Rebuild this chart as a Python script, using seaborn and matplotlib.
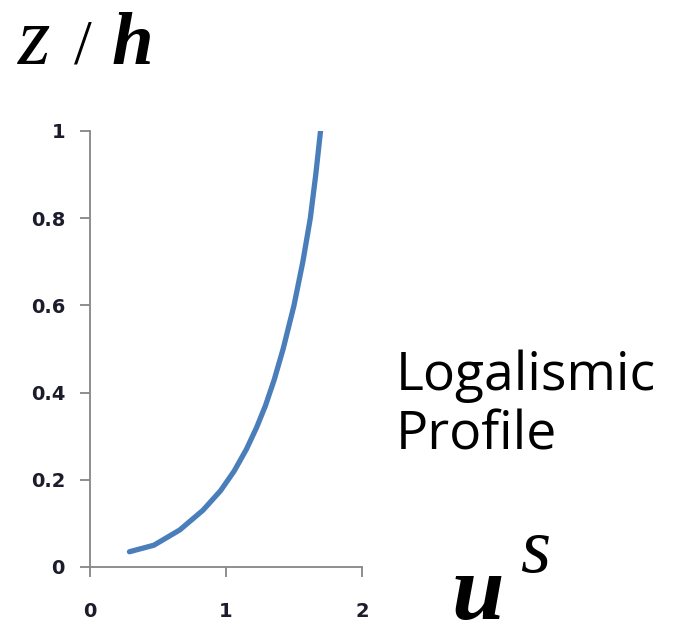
import matplotlib
matplotlib.use("Agg")
import matplotlib.pyplot as plt
import seaborn as sns
import pandas as pd

# Velocity profile: normalised height z/h against velocity u^s
u_s = [0.29, 0.47, 0.66, 0.83, 0.96, 1.06, 1.15, 1.225, 1.29, 1.355,
       1.42, 1.50, 1.565, 1.62, 1.66, 1.695]
z_over_h = [0.035, 0.05, 0.085, 0.13, 0.175, 0.22, 0.27, 0.32, 0.37, 0.43,
            0.5, 0.6, 0.7, 0.8, 0.9, 1.0]
x_ticks = [0, 1, 2]
y_ticks = [0, 0.2, 0.4, 0.6, 0.8, 1]
y_tick_labels = ["0", "0.2", "0.4", "0.6", "0.8", "1"]

df = pd.DataFrame({"u": u_s, "z": z_over_h})

sns.set_style("white")
plt.rcParams["font.family"] = ["DejaVu Sans"]

fig = plt.figure(figsize=(6.84, 6.27), dpi=100)
ax = fig.add_axes([90 / 684, 1 - 567 / 627, 272 / 684, 436 / 627])

sns.lineplot(data=df, x="u", y="z", ax=ax, color="#4A7EBB", linewidth=3.8,
             sort=False, estimator=None, solid_capstyle="round",
             solid_joinstyle="round")

ax.set_xlim(0, 2)
ax.set_ylim(0, 1)
ax.set_xticks(x_ticks)
ax.set_xticklabels([str(v) for v in x_ticks])
ax.set_yticks(y_ticks)
ax.set_yticklabels(y_tick_labels)
ax.set_xlabel("")
ax.set_ylabel("")

for side in ["top", "right"]:
    ax.spines[side].set_visible(False)
for side in ["left", "bottom"]:
    ax.spines[side].set_color("#868686")
    ax.spines[side].set_linewidth(1.3)

ax.tick_params(axis="both", direction="out", length=7, width=1.3,
               color="#868686", labelcolor="#1c1c2c", labelsize=14)
ax.tick_params(axis="y", pad=11, left=True)
ax.tick_params(axis="x", pad=18, bottom=True)
for lab in ax.get_xticklabels() + ax.get_yticklabels():
    lab.set_fontweight("bold")

# Axis titles and caption
fig.text(18 / 684, 1 - 64 / 627, "z", fontsize=60, family="Liberation Serif",
         style="italic", ha="left", va="baseline", color="black")
fig.text(74 / 684, 1 - 64 / 627, "/", fontsize=46, family="Liberation Serif",
         ha="left", va="baseline", color="black")
fig.text(112 / 684, 1 - 64 / 627, "h", fontsize=54, family="Liberation Serif",
         style="italic", weight="bold", ha="left", va="baseline", color="black")

fig.text(396 / 684, 1 - 390 / 627, "Logalismic", fontsize=38.5, family="Open Sans",
         ha="left", va="baseline", color="black")
fig.text(396 / 684, 1 - 450 / 627, "Profile", fontsize=38.5, family="Open Sans",
         ha="left", va="baseline", color="black")

fig.text(452 / 684, 1 - 619 / 627, "u", fontsize=68, family="Liberation Serif",
         style="italic", weight="bold", ha="left", va="baseline", color="black")
fig.text(520 / 684, 1 - 572 / 627, "s", fontsize=56, family="Liberation Serif",
         style="italic", ha="left", va="baseline", color="black")

fig.savefig("out.png", dpi=100)
